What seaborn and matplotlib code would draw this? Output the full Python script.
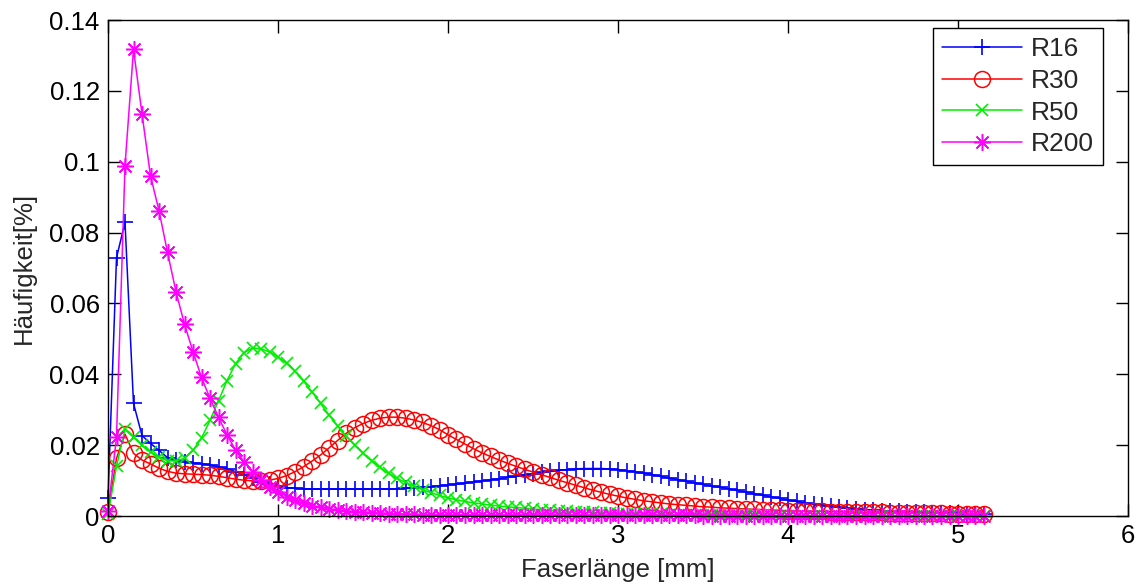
import numpy as np
import pandas as pd
import matplotlib
matplotlib.use("Agg")
import matplotlib.pyplot as plt
import seaborn as sns

# ---- data ----
faserlaenge = np.round(np.arange(104) * 0.05, 2)  # 0 ... 5.15 mm

r16 = [0.0050, 0.0729, 0.0829, 0.0318, 0.0227, 0.0205, 0.0185, 0.0165, 0.0158, 0.0153,
       0.0150, 0.0148, 0.0144, 0.0139, 0.0134, 0.0125, 0.0116, 0.0106, 0.0097, 0.0090,
       0.0084, 0.0080, 0.0078, 0.0077, 0.0076, 0.0076, 0.0076, 0.0076, 0.0076, 0.0076,
       0.0076, 0.0076, 0.0076, 0.0076, 0.0077, 0.0078, 0.0079, 0.0081, 0.0083, 0.0085,
       0.0088, 0.0090, 0.0093, 0.0096, 0.0099, 0.0102, 0.0105, 0.0109, 0.0112, 0.0116,
       0.0119, 0.0123, 0.0126, 0.0129, 0.0131, 0.0133, 0.0134, 0.0134, 0.0134, 0.0133,
       0.0131, 0.0128, 0.0125, 0.0121, 0.0117, 0.0112, 0.0107, 0.0103, 0.0098, 0.0094,
       0.0089, 0.0085, 0.0081, 0.0077, 0.0072, 0.0068, 0.0063, 0.0059, 0.0054, 0.0050,
       0.0045, 0.0041, 0.0037, 0.0033, 0.0030, 0.0027, 0.0024, 0.0022, 0.0020, 0.0018,
       0.0016, 0.0015, 0.0014, 0.0013, 0.0012, 0.0011, 0.0010, 0.0009, 0.0009, 0.0008,
       0.0008, 0.0007, 0.0007, 0.0007]

r30 = [0.0010, 0.0163, 0.0231, 0.0177, 0.0158, 0.0147, 0.0135, 0.0126, 0.0121, 0.0119,
       0.0118, 0.0117, 0.0115, 0.0112, 0.0108, 0.0104, 0.0101, 0.0099, 0.0099, 0.0101,
       0.0106, 0.0114, 0.0125, 0.0139, 0.0155, 0.0172, 0.0192, 0.0213, 0.0233, 0.0249,
       0.0261, 0.0270, 0.0276, 0.0279, 0.0279, 0.0276, 0.0271, 0.0264, 0.0255, 0.0244,
       0.0229, 0.0216, 0.0203, 0.0190, 0.0178, 0.0168, 0.0158, 0.0149, 0.0140, 0.0132,
       0.0124, 0.0116, 0.0109, 0.0101, 0.0094, 0.0087, 0.0080, 0.0073, 0.0067, 0.0061,
       0.0056, 0.0051, 0.0047, 0.0043, 0.0040, 0.0037, 0.0034, 0.0032, 0.0030, 0.0028,
       0.0026, 0.0025, 0.0023, 0.0022, 0.0021, 0.0020, 0.0019, 0.0018, 0.0017, 0.0016,
       0.0015, 0.0014, 0.0014, 0.0013, 0.0013, 0.0012, 0.0012, 0.0011, 0.0011, 0.0010,
       0.0010, 0.0010, 0.0009, 0.0009, 0.0009, 0.0008, 0.0008, 0.0008, 0.0008, 0.0007,
       0.0007, 0.0007, 0.0007, 0.0007]

r50 = [0.0005, 0.0140, 0.0245, 0.0222, 0.0199, 0.0180, 0.0166, 0.0156, 0.0155, 0.0163,
       0.0185, 0.0220, 0.0270, 0.0325, 0.0382, 0.0430, 0.0461, 0.0474, 0.0472, 0.0463,
       0.0449, 0.0431, 0.0408, 0.0381, 0.0350, 0.0318, 0.0285, 0.0254, 0.0226, 0.0200,
       0.0177, 0.0156, 0.0137, 0.0120, 0.0106, 0.0095, 0.0084, 0.0074, 0.0066, 0.0058,
       0.0051, 0.0046, 0.0041, 0.0037, 0.0034, 0.0031, 0.0028, 0.0026, 0.0024, 0.0022,
       0.0020, 0.0018, 0.0016, 0.0015, 0.0013, 0.0012, 0.0011, 0.0010, 0.0009, 0.0008,
       0.0007, 0.0007, 0.0006, 0.0006, 0.0005, 0.0005, 0.0004, 0.0004, 0.0004, 0.0003,
       0.0003, 0.0003, 0.0003, 0.0002, 0.0002, 0.0002, 0.0002, 0.0002, 0.0002, 0.0001,
       0.0001, 0.0001, 0.0001, 0.0001, 0.0001, 0.0001, 0.0001, 0.0001, 0.0001, 0.0001,
       0.0001, 0.0001, 0.0001, 0.0001, 0.0001, 0.0001, 0.0001, 0.0001, 0.0001, 0.0001,
       0.0001, 0.0001, 0.0001, 0.0001]

r200 = [0.0015, 0.0222, 0.0989, 0.1317, 0.1135, 0.0960, 0.0862, 0.0744, 0.0633, 0.0541,
        0.0464, 0.0391, 0.0332, 0.0279, 0.0229, 0.0186, 0.0153, 0.0125, 0.0102, 0.0083,
        0.0069, 0.0055, 0.0044, 0.0036, 0.0029, 0.0024, 0.0020, 0.0017, 0.0014, 0.0012,
        0.0010, 0.0009, 0.0008, 0.0007, 0.0006, 0.0005, 0.0005, 0.0004, 0.0004, 0.0004,
        0.0003, 0.0003, 0.0003, 0.0003, 0.0003, 0.0003, 0.0003, 0.0003, 0.0003, 0.0003,
        0.0002, 0.0002, 0.0002, 0.0002, 0.0002, 0.0002, 0.0002, 0.0002, 0.0002, 0.0002,
        0.0002, 0.0002, 0.0002, 0.0002, 0.0002, 0.0002, 0.0002, 0.0002, 0.0002, 0.0002,
        0.0001, 0.0001, 0.0001, 0.0001, 0.0001, 0.0001, 0.0001, 0.0001, 0.0001, 0.0001,
        0.0001, 0.0001, 0.0001, 0.0001, 0.0001, 0.0001, 0.0001, 0.0001, 0.0001, 0.0001,
        0.0001, 0.0001, 0.0001, 0.0001, 0.0001, 0.0001, 0.0001, 0.0001, 0.0001, 0.0001,
        0.0001, 0.0001, 0.0001, 0.0001]

series_names = ["R16", "R30", "R50", "R200"]
x_ticks = [0, 1, 2, 3, 4, 5, 6]
y_ticks = [0, 0.02, 0.04, 0.06, 0.08, 0.10, 0.12, 0.14]
y_tick_labels = ["0", "0.02", "0.04", "0.06", "0.08", "0.1", "0.12", "0.14"]

# ---- style ----
sns.set_style("ticks")
plt.rcParams["font.family"] = ["Liberation Sans", "DejaVu Sans"]

fig = plt.figure(figsize=(11.38, 5.86), dpi=100)
ax = fig.add_axes([108 / 1138, 1 - 516 / 586, (1128 - 108) / 1138, (516 - 20) / 586])

styles = {
    "R16": dict(color="#0000ff", marker="+", markersize=12, markeredgewidth=1.2,
                markeredgecolor="#0000ff"),
    "R30": dict(color="#ff0000", marker="o", markersize=11.5, markerfacecolor="none",
                markeredgewidth=1.1, markeredgecolor="#ff0000"),
    "R50": dict(color="#00ee00", marker="x", markersize=8, markeredgewidth=1.2,
                markeredgecolor="#00ee00"),
    "R200": dict(color="#ff00ff", marker=(8, 2, 0), markersize=12, markeredgewidth=1.1,
                 markeredgecolor="#ff00ff"),
}
data = {"R16": r16, "R30": r30, "R50": r50, "R200": r200}

for name in series_names:
    df = pd.DataFrame({"x": faserlaenge, "y": data[name]})
    st = styles[name]
    sns.lineplot(data=df, x="x", y="y", ax=ax, estimator=None, sort=False,
                 label=name, linewidth=1.1, clip_on=False, **st)

ax.set_xlim(0, 6)
ax.set_ylim(0, 0.14)
ax.set_xticks(x_ticks)
ax.set_xticklabels([str(t) for t in x_ticks])
ax.set_yticks(y_ticks)
ax.set_yticklabels(y_tick_labels)
ax.tick_params(direction="in", length=9, width=1, labelsize=18.5, top=True, right=True,
               colors="black", pad=6)
for sp in ax.spines.values():
    sp.set_visible(True)
    sp.set_linewidth(1.0)
    sp.set_color("black")

ax.set_xlabel("Faserlänge [mm]", fontsize=18.5, labelpad=7)
ax.set_ylabel("Häufigkeit[%]", fontsize=18.5, labelpad=10)

leg = ax.legend(loc="upper right", bbox_to_anchor=((1103 - 108) / 1020, (516 - 28) / 496),
                borderaxespad=0, fontsize=19, frameon=True, fancybox=False,
                edgecolor="black", framealpha=1, borderpad=0.35, handlelength=3.0,
                handletextpad=0.35, labelspacing=0.29)
leg.get_frame().set_linewidth(1.0)

fig.savefig("out.png", dpi=100)
